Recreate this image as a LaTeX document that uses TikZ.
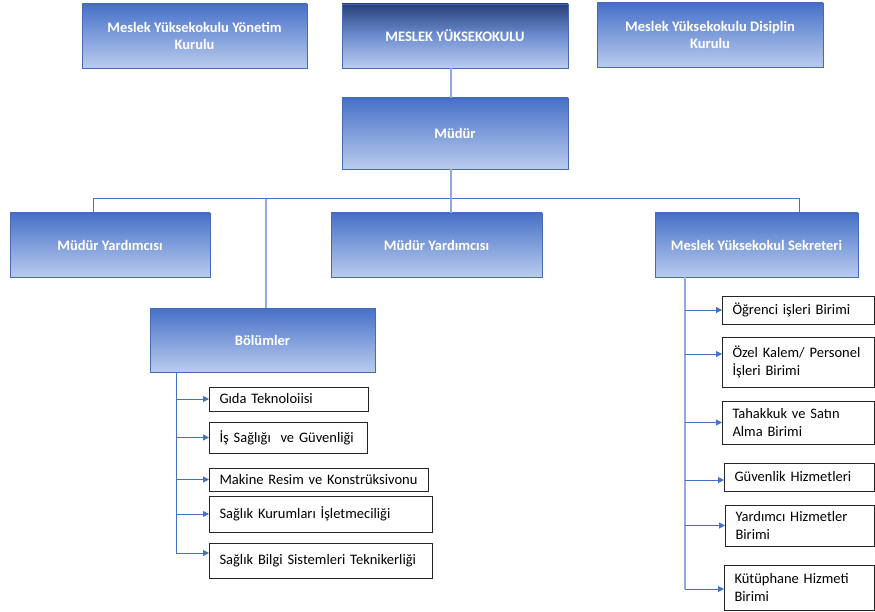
\documentclass[tikz,border=0pt]{standalone}
\usepackage{fontspec}
\setmainfont{Carlito}
\usetikzlibrary{arrows.meta}
\definecolor{gtop}{RGB}{70,112,200}
\definecolor{gbot}{RGB}{186,204,238}
\definecolor{gline}{RGB}{70,106,182}
\definecolor{navy}{RGB}{38,62,120}
\definecolor{gmid}{RGB}{110,142,210}
\definecolor{lblue}{RGB}{143,170,220}
\definecolor{mblue}{RGB}{68,114,196}
\tikzset{
  gbox/.style={rectangle, draw=gline, line width=0.9pt, top color=gtop, bottom color=gbot,
    text=white, font=\fontsize{14.5}{17.5}\selectfont\bfseries, align=center, inner sep=0pt},
  navybox/.style={gbox, top color=navy, bottom color=gbot, middle color=gmid},
  wbox/.style={rectangle, draw=black!85, line width=1pt, fill=white,
    font=\fontsize{14.5}{17.5}\selectfont, align=left, inner xsep=10pt, inner ysep=0pt, anchor=west},
  lline/.style={draw=lblue, line width=1.6pt},
  mline/.style={draw=mblue, line width=1pt},
  arr/.style={draw=mblue, line width=1pt, -{Triangle[length=6pt,width=6pt]}}
}
\begin{document}
\begin{tikzpicture}[x=1pt,y=-1pt]
\useasboundingbox (0,0) rectangle (875,612);
% top row
\node[gbox, minimum width=225pt, minimum height=64pt] (yk) at (194.5,36) {Meslek Yüksekokulu Yönetim\\Kurulu};
\node[navybox, minimum width=226pt, minimum height=64pt] (myo) at (455,36) {MESLEK YÜKSEKOKULU};
\node[gbox, minimum width=226pt, minimum height=64pt] (dk) at (710,35) {Meslek Yüksekokulu Disiplin\\Kurulu};
\node[gbox, minimum width=226pt, minimum height=71pt] (mud) at (455,133.5) {Müdür};
% second row
\node[gbox, minimum width=200pt, minimum height=64pt] (my1) at (110,245) {Müdür Yardımcısı};
\node[gbox, minimum width=211pt, minimum height=64pt] (my2) at (436.5,245) {Müdür Yardımcısı};
\node[gbox, minimum width=203pt, minimum height=64pt] (sek) at (756.5,245) {Meslek Yüksekokul Sekreteri};
\node[gbox, minimum width=225pt, minimum height=64pt] (bol) at (262.5,340) {Bölümler};
% connectors top
\coordinate (bM) at (451,199);
\coordinate (bL) at (93,199);
\coordinate (bR) at (799,199);
\coordinate (bB) at (266,199);
\draw[lline] (myo.south -| bM) -- (mud.north -| bM);
\draw[mline] (bL |- my1.north) -- (bL) -- (bR) -- (bR |- sek.north);
\draw[lline] (mud.south -| bM) -- (bM |- my2.north);
\draw[lline] (bB) -- (bB |- bol.north);
% left items
\node[wbox, text width=139pt, minimum height=24pt] (g1) at (209,399) {Gıda Teknoloiisi};
\node[wbox, text width=138pt, minimum height=31pt] (g2) at (209,437.5) {İş Sağlığı~ ve Güvenliği};
\node[wbox, text width=199pt, minimum height=23pt] (g3) at (209,479.5) {Makine~Resim~ve~Konstrüksivonu};
\node[wbox, text width=203pt, minimum height=36pt] (g4) at (209,514) {Sağlık Kurumları İşletmeciliği};
\node[wbox, text width=203pt, minimum height=35pt] (g5) at (209,560.5) {Sağlık Bilgi Sistemleri Teknikerliği};
\coordinate (lt) at (176,372);
\coordinate (g5a) at ([yshift=7.5pt]g5.west);
\draw[mline] (lt) -- (lt |- g5a);
\draw[arr] (lt |- g1.west) -- (g1.west);
\draw[arr] (lt |- g2.west) -- (g2.west);
\draw[arr] (lt |- g3.west) -- (g3.west);
\draw[arr] (lt |- g4.west) -- (g4.west);
\draw[arr] (lt |- g5a) -- (g5a);
% right items
\node[wbox, text width=132pt, minimum height=28pt] (r1) at (722,310) {Öğrenci işleri Birimi};
\node[wbox, text width=132pt, minimum height=50pt] (r2) at (722,362) {Özel Kalem/ Personel\\İşleri Birimi};
\node[wbox, text width=132pt, minimum height=43pt] (r3) at (722,422.5) {Tahakkuk ve Satın\\Alma Birimi};
\node[wbox, text width=130pt, minimum height=28pt] (r4) at (724,477) {Güvenlik Hizmetleri};
\node[wbox, text width=129pt, minimum height=41pt] (r5) at (725,525.5) {Yardımcı Hizmetler\\Birimi};
\node[wbox, text width=130pt, minimum height=45pt] (r6) at (724,587.5) {Kütüphane Hizmeti\\Birimi};
\coordinate (rt) at (685,277);
\coordinate (r2a) at ([yshift=8pt]r2.west);
\coordinate (r4a) at ([yshift=-3pt]r4.west);
\coordinate (r6a) at ([yshift=-1.5pt]r6.west);
\draw[lline] (rt) -- (rt |- r6a);
\draw[arr] (rt |- r1.west) -- (r1.west);
\draw[arr] (rt |- r2a) -- (r2a);
\draw[arr] (rt |- r3.west) -- (r3.west);
\draw[arr] (rt |- r4a) -- (r4a);
\draw[arr] (rt |- r5.west) -- (r5.west);
\draw[arr] (rt |- r6a) -- (r6a);
\end{tikzpicture}
\end{document}
